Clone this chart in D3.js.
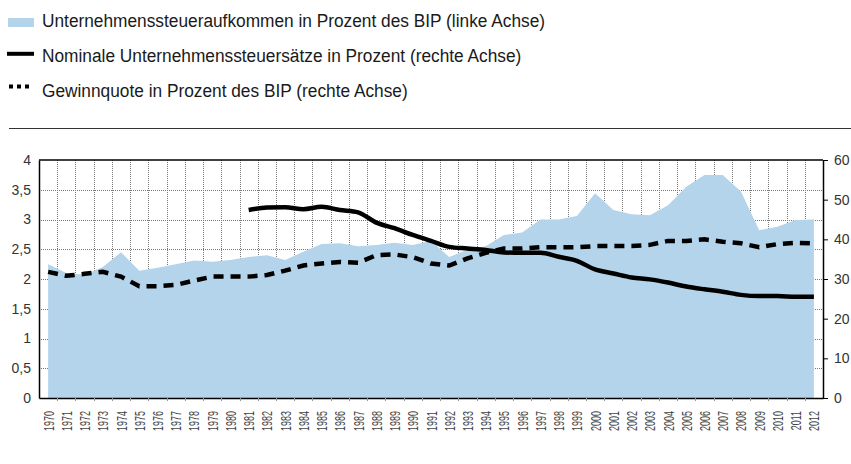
<!DOCTYPE html>
<html>
<head>
<meta charset="utf-8">
<script src="https://cdn.jsdelivr.net/npm/d3@7"></script>
<style>
	body { margin: 0; background: #fff; }
	svg text { font-family: 'Liberation Sans', Arial, sans-serif; fill: #333; }
</style>
</head>
<body>
<div id="chart"></div>
<script>
const years = d3.range(1970, 2013).map(String)

// Unternehmenssteueraufkommen, % des BIP (linke Achse)
const taxRevenue = [2.25, 2.1, 2.07, 2.2, 2.45, 2.14, 2.19, 2.25, 2.31, 2.29, 2.32, 2.37, 2.4, 2.32,
	2.46, 2.59, 2.6, 2.55, 2.57, 2.61, 2.57, 2.64, 2.37, 2.49, 2.55, 2.74, 2.78, 3.0, 3.0,
	3.06, 3.44, 3.16, 3.09, 3.07, 3.24, 3.55, 3.75, 3.75, 3.47, 2.82, 2.88, 2.99, 3.0]

// Nominale Unternehmenssteuersaetze ab 1981 (rechte Achse)
const taxRateYears = d3.range(1981, 2013).map(String)
const taxRate = [47.4, 48.0, 48.1, 47.6, 48.2, 47.4, 46.8, 44.2, 42.8, 41.1, 39.6, 38.1, 37.7,
	37.3, 36.7, 36.6, 36.6, 35.6, 34.6, 32.4, 31.4, 30.4, 29.9, 29.1, 28.1, 27.4, 26.8,
	26.0, 25.7, 25.7, 25.5, 25.5]

// Gewinnquote, % des BIP (rechte Achse)
const profitShare = [31.8, 30.8, 31.3, 31.8, 30.6, 28.2, 28.2, 28.5, 29.6, 30.6, 30.6, 30.6, 31.0,
	32.1, 33.4, 33.9, 34.3, 34.1, 36.0, 36.2, 35.5, 33.9, 33.4, 35.2, 36.6, 37.7, 37.7,
	38.0, 38.0, 38.0, 38.3, 38.3, 38.3, 38.6, 39.6, 39.6, 40.0, 39.4, 39.0, 38.0, 38.8,
	39.1, 39.0]

const leftTicks = d3.range(0, 4.01, 0.5)
const rightTicks = d3.range(0, 61, 10)

const legendItems = [
	{ label: 'Unternehmenssteueraufkommen in Prozent des BIP (linke Achse)', type: 'area' },
	{ label: 'Nominale Unternehmenssteuersätze in Prozent (rechte Achse)', type: 'solid' },
	{ label: 'Gewinnquote in Prozent des BIP (rechte Achse)', type: 'dash' }
]

const width = 851,
	height = 464
const margin = { top: 160, right: 28, bottom: 66, left: 39 }
const blue = '#b3d4eb'

const svg = d3
	.select('#chart')
	.append('svg')
	.attr('width', width)
	.attr('height', height)

const x = d3
	.scaleBand()
	.domain(years)
	.range([margin.left, width - margin.right])

const yLeft = d3
	.scaleLinear()
	.domain([0, 4])
	.range([height - margin.bottom, margin.top])

const yRight = d3
	.scaleLinear()
	.domain([0, 60])
	.range([height - margin.bottom, margin.top])

const cx = year => x(year) + x.bandwidth() / 2

// legend
const legend = svg
	.append('g')
	.selectAll('g')
	.data(legendItems)
	.enter()
	.append('g')
	.attr('transform', (d, i) => `translate(0,${27 + i * 34.8})`)

legend.each(function(d) {
	const g = d3.select(this)
	if (d.type === 'area') {
		g.append('rect')
			.attr('x', 8)
			.attr('y', -9)
			.attr('width', 26)
			.attr('height', 9)
			.attr('fill', blue)
	} else if (d.type === 'solid') {
		g.append('line')
			.attr('x1', 7)
			.attr('x2', 34)
			.attr('y1', -8)
			.attr('y2', -8)
			.attr('stroke', '#000')
			.attr('stroke-width', 4)
	} else {
		g.append('line')
			.attr('x1', 9)
			.attr('x2', 30)
			.attr('y1', -10)
			.attr('y2', -10)
			.attr('stroke', '#000')
			.attr('stroke-width', 4)
			.attr('stroke-dasharray', '4,4')
	}
	// the original uses a condensed face, so squeeze the text a bit
	g.append('text')
		.attr('transform', 'translate(42,0) scale(0.91,1)')
		.style('font-size', '19px')
		.style('fill', '#1a1a1a')
		.text(d.label)
})

// separator
svg.append('line')
	.attr('x1', 9)
	.attr('x2', width)
	.attr('y1', 128.5)
	.attr('y2', 128.5)
	.attr('stroke', '#333')
	.attr('stroke-width', 1.2)

// grid
const grid = svg.append('g').attr('stroke', '#777').attr('stroke-width', 1).attr('stroke-dasharray', '1,1')
grid.selectAll('.h')
	.data(leftTicks.slice(1, -1))
	.enter()
	.append('line')
	.attr('x1', margin.left)
	.attr('x2', width - margin.right)
	.attr('y1', d => Math.round(yLeft(d)) + 0.5)
	.attr('y2', d => Math.round(yLeft(d)) + 0.5)
grid.selectAll('.v')
	.data(years.slice(1))
	.enter()
	.append('line')
	.attr('x1', d => Math.round(x(d)) + 0.5)
	.attr('x2', d => Math.round(x(d)) + 0.5)
	.attr('y1', margin.top)
	.attr('y2', height - margin.bottom)

// area
const area = d3
	.area()
	.x((d, i) => cx(years[i]))
	.y0(yLeft(0))
	.y1(d => yLeft(d))

svg.append('path')
	.datum(taxRevenue)
	.attr('d', area)
	.attr('fill', blue)

// profit share (dashed)
const lineProfit = d3
	.line()
	.x((d, i) => cx(years[i]))
	.y(d => yRight(d))

svg.append('path')
	.datum(profitShare)
	.attr('d', lineProfit)
	.attr('fill', 'none')
	.attr('stroke', '#000')
	.attr('stroke-width', 4.5)
	.attr('stroke-dasharray', '10,7')

// nominal tax rate (solid)
const lineRate = d3
	.line()
	.x((d, i) => cx(taxRateYears[i]))
	.y(d => yRight(d))
	.curve(d3.curveMonotoneX)

svg.append('path')
	.datum(taxRate)
	.attr('d', lineRate)
	.attr('fill', 'none')
	.attr('stroke', '#000')
	.attr('stroke-width', 4.5)

// frame
svg.append('line')
	.attr('x1', margin.left)
	.attr('x2', width - margin.right)
	.attr('y1', margin.top)
	.attr('y2', margin.top)
	.attr('stroke', '#000')
	.attr('stroke-width', 1.5)

// left axis
const leftAxis = svg
	.append('g')
	.attr('transform', `translate(${margin.left},0)`)
	.call(
		d3
			.axisLeft(yLeft)
			.tickValues(leftTicks)
			.tickSize(0)
			.tickPadding(8)
			.tickFormat(d => String(d).replace('.', ','))
	)
leftAxis.select('.domain').attr('stroke', '#000').attr('stroke-width', 1.5)
leftAxis.selectAll('text').style('font-size', '14px').style('font-family', null)

// right axis
const rightAxis = svg
	.append('g')
	.attr('transform', `translate(${width - margin.right},0)`)
	.call(
		d3
			.axisRight(yRight)
			.tickValues(rightTicks)
			.tickSizeInner(5)
			.tickSizeOuter(0)
			.tickPadding(6)
	)
rightAxis.select('.domain').attr('stroke', '#000').attr('stroke-width', 1.5)
rightAxis.selectAll('line').attr('stroke', '#000')
rightAxis.selectAll('text').style('font-size', '14px').style('font-family', null)

// bottom axis
const bottomAxis = svg
	.append('g')
	.attr('transform', `translate(0,${height - margin.bottom})`)
	.call(d3.axisBottom(x).tickSize(0).tickPadding(0))
bottomAxis.select('.domain').attr('stroke', '#000').attr('stroke-width', 1.5)
bottomAxis
	.selectAll('text')
	.style('font-size', '15px')
	.style('font-family', null)
	.style('fill', '#444')
	.attr('text-anchor', 'end')
	.attr('transform', 'translate(5.5,13) rotate(-90) scale(0.6,1)')
	.attr('dy', 0)

svg.append('g')
	.selectAll('line')
	.data(years.slice(1))
	.enter()
	.append('line')
	.attr('x1', d => Math.round(x(d)) + 0.5)
	.attr('x2', d => Math.round(x(d)) + 0.5)
	.attr('y1', height - margin.bottom)
	.attr('y2', height - margin.bottom + 3)
	.attr('stroke', '#999')
</script>
</body>
</html>
